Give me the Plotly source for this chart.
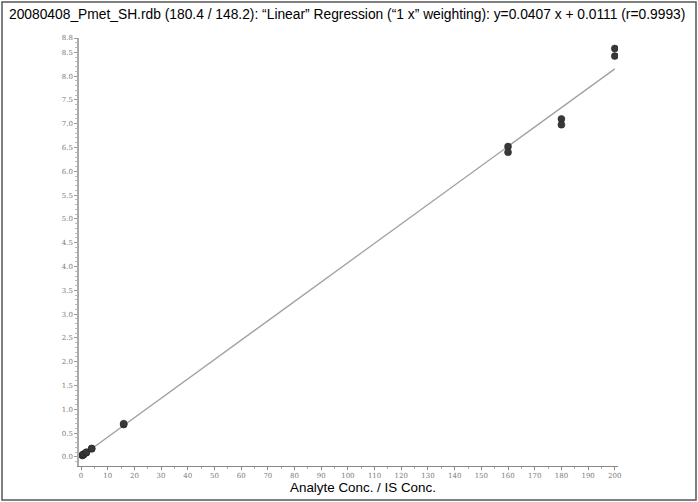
import plotly.graph_objects as go

# Calibration standards (analyte conc. / IS conc.) and area ratios, duplicate injections
conc = [0.5, 0.5, 1, 1, 2, 2, 4, 4, 16, 16, 160, 160, 180, 180, 200, 200]
ratio = [0.03, 0.04, 0.05, 0.06, 0.09, 0.10, 0.17, 0.18, 0.68, 0.70,
         6.52, 6.40, 7.10, 6.98, 8.58, 8.42]

# Regression result
slope = 0.0407
intercept = 0.0111
r_value = 0.9993
fit_x = [0, 200]

y_ticks = [i * 0.5 for i in range(18)] + [8.8]
y_labels = [f"{v:.1f}" for v in y_ticks]
x_ticks = list(range(0, 201, 10))
x_labels = [str(v) for v in x_ticks]

title_text = (f"20080408_Pmet_SH.rdb (180.4 / 148.2): \u201cLinear\u201d Regression "
              f"(\u201c1 x\u201d weighting): y={slope} x + {intercept} (r={r_value})")

W, H = 698, 502
ML, MR, MT, MB = 79, 80, 38, 36

fig = go.Figure()
fig.add_trace(go.Scatter(
    x=fit_x, y=[slope * v + intercept for v in fit_x], mode="lines",
    line=dict(color="#a0a0a0", width=1.3), hoverinfo="skip", showlegend=False))
fig.add_trace(go.Scatter(
    x=conc, y=ratio, mode="markers",
    marker=dict(size=7, color="#383838", line=dict(color="#222", width=0.5)),
    showlegend=False))

pw = W - ML - MR
ph = H - MT - MB
# outer frame around the whole chart
fig.add_shape(type="rect", xref="paper", yref="paper",
              x0=(2 - ML) / pw, x1=(W - 2 - ML) / pw,
              y0=-(H - 2 - MT - ph) / ph, y1=1 + (MT - 2) / ph,
              line=dict(color="#555555", width=1.5), layer="below")

fig.add_annotation(text=title_text, xref="paper", yref="paper",
                   x=(7 - ML) / pw, y=1 + (MT - 5) / ph, xanchor="left", yanchor="top",
                   showarrow=False, font=dict(family="Liberation Sans, Arial", size=13.8, color="#000"))

fig.add_annotation(text="Analyte Conc. / IS Conc.", xref="paper", yref="paper",
                   x=(363 - ML) / pw, y=-(487 - MT - ph) / ph, xanchor="center", yanchor="middle",
                   showarrow=False, font=dict(family="Liberation Sans, Arial", size=13.4, color="#000"))

fig.update_layout(
    width=W, height=H, margin=dict(l=ML, r=MR, t=MT, b=MB),
    paper_bgcolor="white", plot_bgcolor="white",
    xaxis=dict(range=[-0.75, 201.2], tickvals=x_ticks, ticktext=x_labels,
               showgrid=False, zeroline=False, showline=True, linecolor="#888", linewidth=1,
               ticks="outside", ticklen=3, tickcolor="#888",
               minor=dict(tickvals=list(range(5, 200, 10)), ticks="outside", ticklen=2, tickcolor="#aaa"),
               tickfont=dict(family="DejaVu Serif", size=7, color="#7a7a7a")),
    yaxis=dict(range=[-0.19, 8.8], tickvals=y_ticks, ticktext=y_labels,
               showgrid=False, zeroline=False, showline=True, linecolor="#aaa", linewidth=1.5,
               ticks="outside", ticklen=3, tickcolor="#999",
               minor=dict(dtick=0.1, ticks="outside", ticklen=2, tickcolor="#bbb"),
               tickfont=dict(family="DejaVu Serif", size=7, color="#7a7a7a")),
)

fig.write_html("out.html")
